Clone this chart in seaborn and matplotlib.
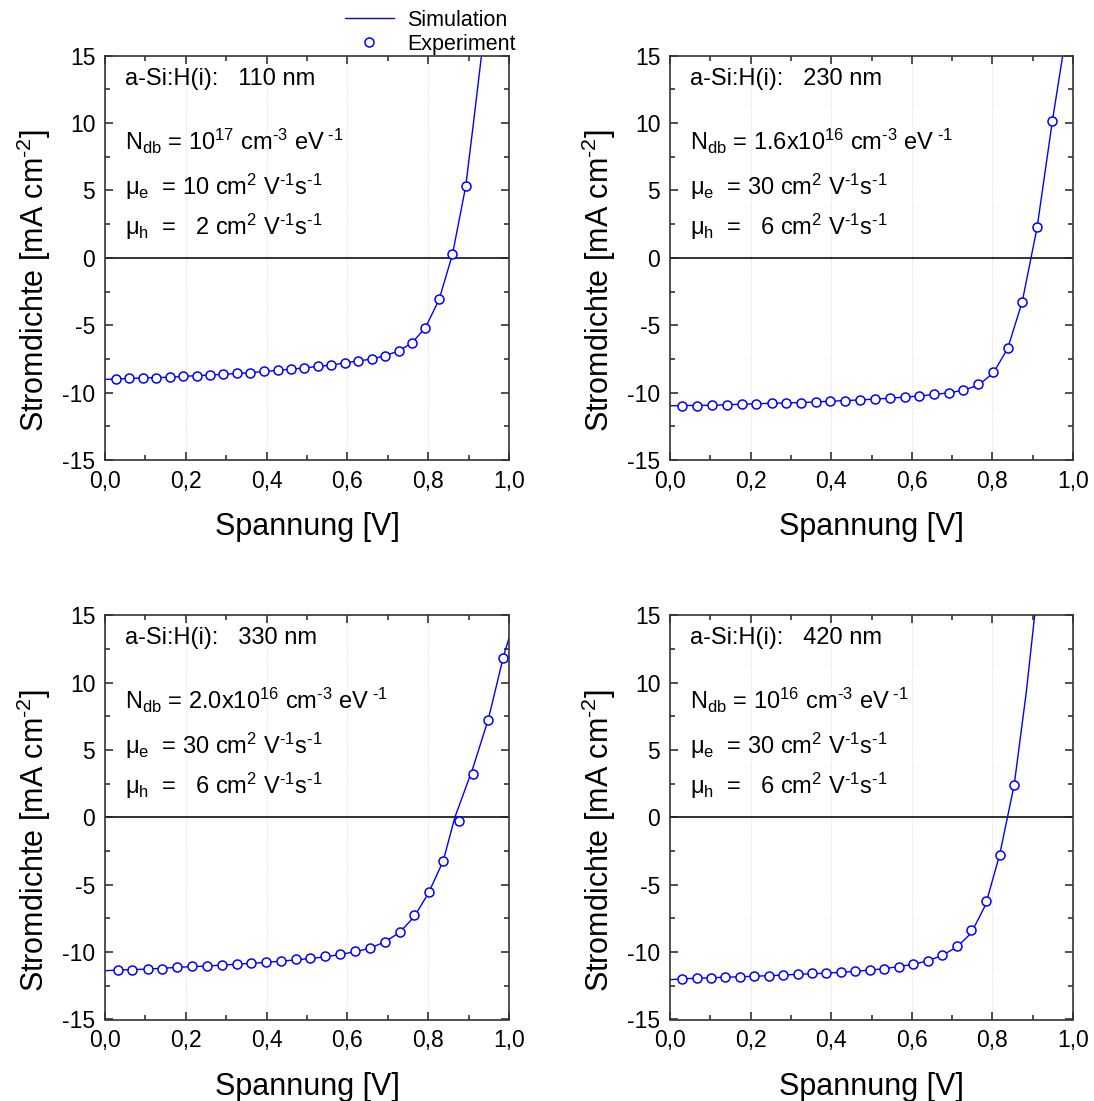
import numpy as np
import pandas as pd
import matplotlib
matplotlib.use("Agg")
import matplotlib.pyplot as plt
from matplotlib.lines import Line2D
from matplotlib.ticker import MultipleLocator, FixedLocator, FixedFormatter
import seaborn as sns

# ---------------- data ----------------
# Panel 1: 110 nm
exp1_v = [0.026, 0.060, 0.093, 0.126, 0.160, 0.193, 0.227, 0.260, 0.293, 0.327, 0.360, 0.394,
          0.427, 0.460, 0.493, 0.526, 0.560, 0.593, 0.627, 0.660, 0.693, 0.727, 0.760, 0.793,
          0.827, 0.860, 0.893]
exp1_j = [-8.99, -8.94, -8.91, -8.89, -8.86, -8.79, -8.74, -8.69, -8.64, -8.57, -8.52, -8.42,
          -8.35, -8.25, -8.17, -8.05, -7.95, -7.80, -7.65, -7.51, -7.26, -6.91, -6.30, -5.19,
          -3.09, 0.25, 5.33]
sim1_v = [0.0, 0.026, 0.093, 0.160, 0.227, 0.293, 0.360, 0.427, 0.493, 0.560, 0.627, 0.660,
          0.693, 0.727, 0.760, 0.793, 0.827, 0.860, 0.893, 0.912, 0.933]
sim1_j = [-9.02, -8.99, -8.91, -8.86, -8.74, -8.64, -8.52, -8.35, -8.17, -7.95, -7.65, -7.51,
          -7.26, -6.91, -6.30, -5.19, -3.09, 0.25, 5.33, 10.0, 15.3]

# Panel 2: 230 nm
exp2_v = [0.031, 0.068, 0.105, 0.141, 0.179, 0.214, 0.252, 0.288, 0.325, 0.362, 0.398, 0.435,
          0.472, 0.508, 0.545, 0.582, 0.619, 0.655, 0.692, 0.728, 0.765, 0.802, 0.838, 0.874,
          0.911, 0.949]
exp2_j = [-10.96, -10.96, -10.94, -10.89, -10.86, -10.81, -10.79, -10.77, -10.74, -10.69, -10.64, -10.59,
          -10.54, -10.49, -10.42, -10.35, -10.22, -10.12, -10.00, -9.78, -9.38, -8.49, -6.72, -3.26,
          2.27, 10.19]
sim2_v = [0.0, 0.031, 0.105, 0.179, 0.252, 0.325, 0.398, 0.472, 0.545, 0.619, 0.692, 0.728,
          0.765, 0.802, 0.838, 0.874, 0.911, 0.949, 0.976]
sim2_j = [-10.98, -10.96, -10.94, -10.86, -10.79, -10.74, -10.64, -10.54, -10.42, -10.25, -10.02, -9.82,
          -9.45, -8.55, -6.72, -3.26, 2.27, 10.19, 15.3]

# Panel 3: 330 nm
exp3_v = [0.032, 0.068, 0.106, 0.142, 0.179, 0.215, 0.252, 0.289, 0.326, 0.361, 0.399, 0.435,
          0.472, 0.508, 0.545, 0.582, 0.619, 0.655, 0.692, 0.729, 0.766, 0.801, 0.837, 0.875,
          0.910, 0.949, 0.986]
exp3_j = [-11.33, -11.31, -11.26, -11.23, -11.11, -11.06, -11.01, -10.94, -10.86, -10.81, -10.74, -10.67,
          -10.54, -10.47, -10.32, -10.15, -9.95, -9.70, -9.23, -8.49, -7.26, -5.51, -3.23, -0.25,
          3.23, 7.20, 11.85]
sim3_v = [0.0, 0.032, 0.106, 0.179, 0.252, 0.326, 0.399, 0.472, 0.545, 0.619, 0.655, 0.692,
          0.729, 0.766, 0.801, 0.837, 0.866, 0.910, 0.949, 0.986, 1.0]
sim3_j = [-11.38, -11.33, -11.26, -11.13, -11.03, -10.90, -10.76, -10.58, -10.36, -9.98, -9.72, -9.25,
          -8.55, -7.35, -5.60, -3.25, 0.0, 3.6, 7.3, 11.9, 13.3]

# Panel 4: 420 nm
exp4_v = [0.030, 0.066, 0.102, 0.137, 0.174, 0.209, 0.245, 0.281, 0.317, 0.353, 0.388, 0.424,
          0.460, 0.497, 0.532, 0.568, 0.603, 0.640, 0.675, 0.712, 0.747, 0.783, 0.818, 0.854]
exp4_j = [-11.98, -11.95, -11.90, -11.88, -11.83, -11.80, -11.75, -11.70, -11.65, -11.58, -11.56, -11.48,
          -11.43, -11.36, -11.23, -11.09, -10.91, -10.64, -10.25, -9.56, -8.35, -6.20, -2.77, 2.40]
sim4_v = [0.0, 0.030, 0.102, 0.174, 0.245, 0.317, 0.388, 0.460, 0.532, 0.603, 0.640, 0.675,
          0.712, 0.747, 0.783, 0.818, 0.854, 0.884, 0.906]
sim4_j = [-12.05, -11.98, -11.90, -11.83, -11.75, -11.65, -11.56, -11.43, -11.23, -10.91, -10.64, -10.25,
          -9.62, -8.60, -6.50, -2.77, 2.40, 9.26, 15.3]

thickness_labels = ["a-Si:H(i):   110 nm", "a-Si:H(i):   230 nm", "a-Si:H(i):   330 nm", "a-Si:H(i):   420 nm"]
ndb_labels = [r"N$_{\rm db}$ = 10$^{17}$ cm$^{\text{-}3}$ eV$^{\ \text{-}1}$",
              r"N$_{\rm db}$ = 1.6x10$^{16}$ cm$^{\text{-}3}$ eV$^{\ \text{-}1}$",
              r"N$_{\rm db}$ = 2.0x10$^{16}$ cm$^{\text{-}3}$ eV$^{\ \text{-}1}$",
              r"N$_{\rm db}$ = 10$^{16}$ cm$^{\text{-}3}$ eV$^{\ \text{-}1}$"]
mue_labels = [r"μ$_{\rm e}$  = 10 cm$^{2}$ V$^{\text{-}1}$s$^{\text{-}1}$",
              r"μ$_{\rm e}$  = 30 cm$^{2}$ V$^{\text{-}1}$s$^{\text{-}1}$",
              r"μ$_{\rm e}$  = 30 cm$^{2}$ V$^{\text{-}1}$s$^{\text{-}1}$",
              r"μ$_{\rm e}$  = 30 cm$^{2}$ V$^{\text{-}1}$s$^{\text{-}1}$"]
muh_labels = [r"μ$_{\rm h}$  =   2 cm$^{2}$ V$^{\text{-}1}$s$^{\text{-}1}$",
              r"μ$_{\rm h}$  =   6 cm$^{2}$ V$^{\text{-}1}$s$^{\text{-}1}$",
              r"μ$_{\rm h}$  =   6 cm$^{2}$ V$^{\text{-}1}$s$^{\text{-}1}$",
              r"μ$_{\rm h}$  =   6 cm$^{2}$ V$^{\text{-}1}$s$^{\text{-}1}$"]

x_ticks = [0.0, 0.2, 0.4, 0.6, 0.8, 1.0]
x_tick_labels = ["0,0", "0,2", "0,4", "0,6", "0,8", "1,0"]
y_ticks = [-15, -10, -5, 0, 5, 10, 15]
y_tick_labels = ["-15", "-10", "-5", "0", "5", "10", "15"]

x_label = "Spannung [V]"
y_label = r"Stromdichte [mA cm$^{\text{-}2}$]"
legend_labels = ["Simulation", "Experiment"]

# ---------------- style ----------------
sns.set_theme(style="ticks")
plt.rcParams["font.family"] = ["Liberation Sans", "DejaVu Sans"]
plt.rcParams["mathtext.fontset"] = "custom"
plt.rcParams["mathtext.rm"] = "Liberation Sans"
plt.rcParams["mathtext.it"] = "Liberation Sans:italic"
plt.rcParams["mathtext.bf"] = "Liberation Sans:bold"
plt.rcParams["axes.unicode_minus"] = False
plt.rcParams["text.color"] = "black"
plt.rcParams["axes.labelcolor"] = "black"

BLUE = "#0000ff"
W, H = 1094, 1101
fig = plt.figure(figsize=(W / 100, H / 100), dpi=100)

def px_axes(left, top, right, bottom):
    return [left / W, 1 - bottom / H, (right - left) / W, (bottom - top) / H]

positions = [px_axes(105, 55.7, 509, 460), px_axes(670, 55.7, 1073, 460),
             px_axes(105, 615.2, 509, 1019.5), px_axes(670, 615.2, 1073, 1019.5)]

panels = [(exp1_v, exp1_j, sim1_v, sim1_j), (exp2_v, exp2_j, sim2_v, sim2_j),
          (exp3_v, exp3_j, sim3_v, sim3_j), (exp4_v, exp4_j, sim4_v, sim4_j)]

for i, (pos, (ev, ej, sv, sj)) in enumerate(zip(positions, panels)):
    ax = fig.add_axes(pos)
    ax.set_facecolor("white")
    for xv in x_ticks[1:-1]:
        ax.axvline(xv, color="#d8d8d8", lw=0.7, ls=":", zorder=0)
    ax.axhline(0, color="#222222", lw=1.3, zorder=1)
    sim_df = pd.DataFrame({"V": sv, "J": sj})
    exp_df = pd.DataFrame({"V": ev, "J": ej})
    sns.lineplot(data=sim_df, x="V", y="J", ax=ax, color=BLUE, lw=1.0,
                 estimator=None, sort=False, zorder=2)
    sns.scatterplot(data=exp_df, x="V", y="J", ax=ax, marker="o", s=42,
                    color="white", edgecolor=BLUE, linewidth=1.1, zorder=3)
    ax.set_xlim(0, 1.0)
    ax.set_ylim(-15, 15)
    ax.xaxis.set_major_locator(FixedLocator(x_ticks))
    ax.xaxis.set_major_formatter(FixedFormatter(x_tick_labels))
    ax.yaxis.set_major_locator(FixedLocator(y_ticks))
    ax.yaxis.set_major_formatter(FixedFormatter(y_tick_labels))
    ax.xaxis.set_minor_locator(MultipleLocator(0.1))
    ax.yaxis.set_minor_locator(MultipleLocator(2.5))
    ax.tick_params(which="both", direction="in", top=True, right=True,
                   width=1.1, colors="#222222", labelcolor="black")
    ax.tick_params(which="major", length=6, labelsize=16.5, pad=7)
    ax.tick_params(which="minor", length=3.5)
    for sp in ax.spines.values():
        sp.set_color("#333333")
        sp.set_linewidth(1.2)
    ax.set_xlabel(x_label, fontsize=22, labelpad=14)
    ax.set_ylabel(y_label, fontsize=22)
    ax.yaxis.set_label_coords(-0.128, 0.443)
    ax.text(0.05, 12.84, thickness_labels[i], fontsize=17, va="baseline", ha="left")
    ax.text(0.05, 8.02, ndb_labels[i], fontsize=17, va="baseline", ha="left")
    ax.text(0.05, 4.69, mue_labels[i], fontsize=17, va="baseline", ha="left")
    ax.text(0.05, 1.73, muh_labels[i], fontsize=17, va="baseline", ha="left")

handles = [Line2D([0], [0], color=BLUE, lw=1.0),
           Line2D([0], [0], marker="o", ls="none", mfc="white", mec=BLUE, ms=6.5, mew=1.1)]
fig.legend(handles=handles, labels=legend_labels, loc="upper left",
           bbox_to_anchor=(335 / W, 1.0), frameon=False, fontsize=15.5,
           handlelength=2.3, labelspacing=0.15, handletextpad=0.6, borderaxespad=0.05)

fig.savefig("out.png", dpi=100, facecolor="white")
